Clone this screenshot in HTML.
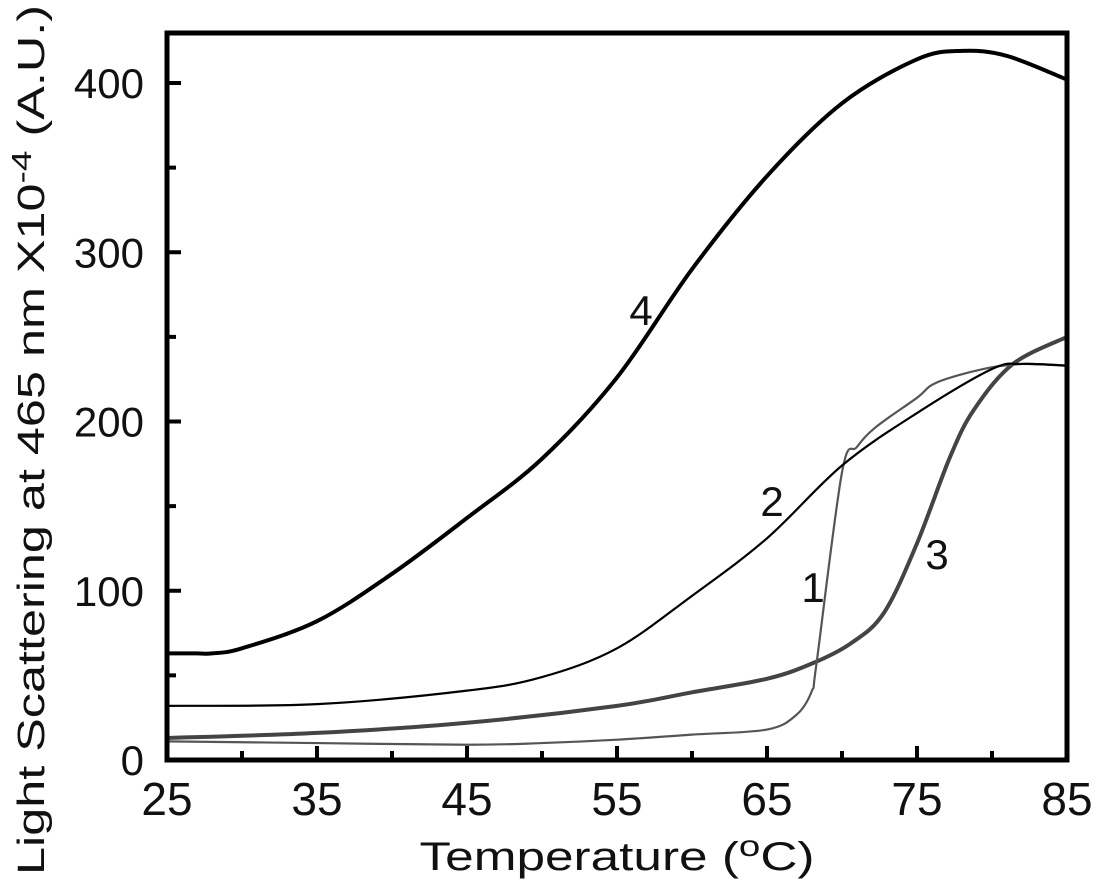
<!DOCTYPE html>
<html><head><meta charset="utf-8"><style>
html,body{margin:0;padding:0;background:#fff;}
svg text{font-family:"Liberation Sans",Arial,sans-serif;fill:#111;}
</style></head><body>
<svg id="chart" width="1096" height="890" viewBox="0 0 1096 890" xmlns="http://www.w3.org/2000/svg">
<g id="marks"></g>
<g id="axes"></g>
<text transform="translate(44,440) rotate(-90)" text-anchor="middle" style="font-size:38px" textLength="870" lengthAdjust="spacingAndGlyphs">Light Scattering at 465 nm X10<tspan dy="-13" style="font-size:28px">-4</tspan><tspan dy="13">  (A.U.)</tspan></text>
<text x="617" y="870" text-anchor="middle" style="font-size:40px" textLength="395" lengthAdjust="spacingAndGlyphs">Temperature (<tspan dy="-14" style="font-size:30px">o</tspan><tspan dy="14">C)</tspan></text>
</svg>
<script>
const xTicks=[25,35,45,55,65,75,85];
const yTicks=[0,100,200,300,400];
const c1T=[25,35,45,50,55,60,65,67,68,68.3,70,71,72.3,75,76.3,79.4,82,85];
const c1V=[11,10,9,10,12,15,18,27,41,57,170,185,197,214,223,231,234,233];
const c2T=[25,35,45,50,55,60,65,70,75,80,82,85];
const c2V=[32,33,41,49,66,97,131,174,205,231,234,233];
const c3T=[25,35,45,55,60,65,68,70.6,72.8,75,77.2,78.8,81.4,85];
const c3V=[13,16,22,32,40,48,57,69,87,128,179,207,234,250];
const c4T=[25,27,28,30,35,40,45,50,55,60,65,70,75,78,81,85];
const c4V=[63,63,63,66,82,110,143,178,226,290,345,388,414,419,416,402];
const X0=167,X1=1067,Y0=760,Y1=83;
const sx=t=>X0+(t-25)/60*(X1-X0);
const sy=v=>Y0+(v/400)*(Y1-Y0);
const NS="http://www.w3.org/2000/svg";
function pathFrom(T,V){
  const p=T.map((t,i)=>[sx(t),sy(V[i])]);
  let d="M"+p[0][0]+","+p[0][1];
  for(let i=0;i<p.length-1;i++){
    const a=p[Math.max(i-1,0)],b=p[i],c=p[i+1],e=p[Math.min(i+2,p.length-1)];
    const k=1/6;
    d+=" C"+(b[0]+(c[0]-a[0])*k)+","+(b[1]+(c[1]-a[1])*k)+" "+(c[0]-(e[0]-b[0])*k)+","+(c[1]-(e[1]-b[1])*k)+" "+c[0]+","+c[1];
  }
  return d;
}
const marks=document.getElementById('marks');
function addCurve(T,V,color,w,name){
  const el=document.createElementNS(NS,'path');
  el.setAttribute('d',pathFrom(T,V));
  el.setAttribute('fill','none');el.setAttribute('stroke',color);el.setAttribute('stroke-width',w);
  
  
  marks.appendChild(el);
}
addCurve(c3T,c3V,'#444',4,'curve-3');
addCurve(c1T,c1V,'#555',2.2,'curve-1');
addCurve(c2T,c2V,'#000',2.2,'curve-2');
addCurve(c4T,c4V,'#000',4,'curve-4');
function lbl(txt,x,y,name){
  const t=document.createElementNS(NS,'text');
  t.setAttribute('x',x);t.setAttribute('y',y);t.setAttribute('style','font-size:42px');t.setAttribute('text-anchor','middle');
  t.textContent=txt;
  
  
  marks.appendChild(t);
}
lbl('4',641,325,'curve-4-label');
lbl('2',772,516,'curve-2-label');
lbl('1',813,602,'curve-1-label');
lbl('3',937,569,'curve-3-label');
const axes=document.getElementById('axes');
const frame=document.createElementNS(NS,'rect');
frame.setAttribute('x',X0);frame.setAttribute('y',33);frame.setAttribute('width',X1-X0);frame.setAttribute('height',Y0-33);
frame.setAttribute('fill','none');frame.setAttribute('stroke','#000');frame.setAttribute('stroke-width','5');


axes.appendChild(frame);
function line(x1,y1,x2,y2,name){
  const l=document.createElementNS(NS,'line');
  l.setAttribute('x1',x1);l.setAttribute('y1',y1);l.setAttribute('x2',x2);l.setAttribute('y2',y2);
  l.setAttribute('stroke','#000');l.setAttribute('stroke-width','4');
  
  
  axes.appendChild(l);
}
for(let t=30;t<85;t+=5){const major=(t-25)%10===0;line(sx(t),Y0,sx(t),Y0-(major?14:9),major?'x-major-tick':'x-minor-tick');}
for(let v=50;v<=400;v+=50){const major=v%100===0;line(X0,sy(v),X0+(major?14:9),sy(v),major?'y-major-tick':'y-minor-tick');}
xTicks.forEach(t=>{
  const e=document.createElementNS(NS,'text');
  e.setAttribute('x',sx(t));e.setAttribute('y',815);e.setAttribute('text-anchor','middle');e.setAttribute('style','font-size:46px');
  e.textContent=t;
  
  
  axes.appendChild(e);
});
yTicks.forEach(v=>{
  const e=document.createElementNS(NS,'text');
  e.setAttribute('x',144);e.setAttribute('y',sy(v)+15);e.setAttribute('text-anchor','end');e.setAttribute('style','font-size:42px');
  e.textContent=v;
  
  
  axes.appendChild(e);
});
</script>
</body></html>
